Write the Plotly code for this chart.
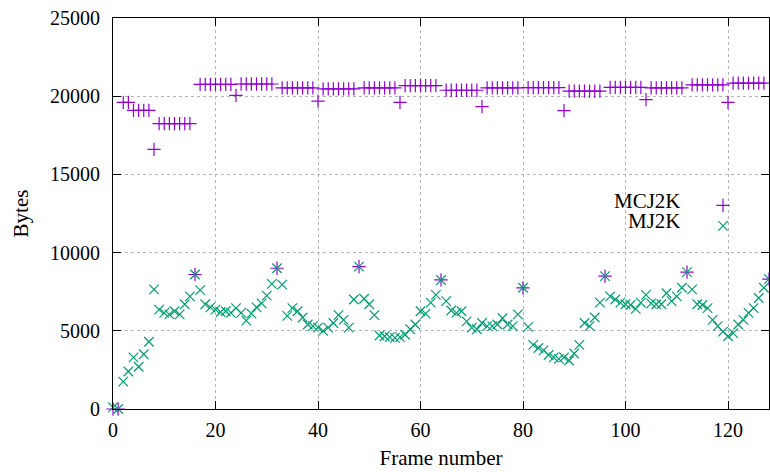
import plotly.graph_objects as go

# ---- data ----
frames = list(range(129))

mcj2k = [
    0, 0, 19600, 19600, 19100, 19100, 19100, 19100, 16600, 18250,
    18250, 18250, 18250, 18250, 18250, 18250, 8600, 20750, 20750, 20750,
    20750, 20750, 20750, 20750, 20050, 20780, 20780, 20780, 20780, 20780,
    20780, 20780, 9000, 20530, 20530, 20530, 20530, 20530, 20530, 20530,
    19680, 20470, 20470, 20470, 20470, 20470, 20470, 20470, 9100, 20530,
    20530, 20530, 20530, 20530, 20530, 20530, 19600, 20680, 20680, 20680,
    20680, 20680, 20680, 20680, 8250, 20380, 20380, 20380, 20380, 20380,
    20380, 20380, 19330, 20530, 20530, 20530, 20530, 20530, 20530, 20530,
    7750, 20550, 20550, 20550, 20550, 20550, 20550, 20550, 19080, 20320,
    20320, 20320, 20320, 20320, 20320, 20320, 8500, 20570, 20570, 20570,
    20570, 20570, 20570, 20570, 19780, 20530, 20530, 20530, 20530, 20530,
    20530, 20530, 8750, 20720, 20720, 20720, 20720, 20720, 20720, 20720,
    19600, 20830, 20830, 20830, 20830, 20830, 20830, 20830, 8300,
]

mj2k = [
    100, 0, 1750, 2400, 3300, 2700, 3500, 4300, 7650, 6350,
    6150, 6050, 6250, 6050, 6700, 7200, 8600, 7600, 6700, 6500,
    6350, 6200, 6250, 6150, 6450, 6150, 5650, 6100, 6500, 6750,
    7250, 8000, 9000, 7950, 5950, 6450, 6250, 5850, 5400, 5300,
    5200, 5000, 5200, 5500, 6000, 5700, 5200, 7000, 9100, 7050,
    6700, 6000, 4700, 4650, 4600, 4550, 4600, 4750, 5100, 5400,
    6250, 6100, 6800, 7300, 8250, 6900, 6300, 6150, 6250, 5600,
    5200, 5100, 5500, 5300, 5300, 5400, 5800, 5400, 5300, 6050,
    7750, 5250, 4100, 3900, 3750, 3450, 3300, 3200, 3300, 3100,
    3550, 4100, 5500, 5300, 5850, 6800, 8500, 7200, 7000, 6800,
    6700, 6650, 6400, 6800, 7300, 6750, 6700, 6700, 7400, 6900,
    7200, 7750, 8750, 7650, 6700, 6650, 6450, 5700, 5300, 4950,
    4650, 4850, 5400, 5700, 6150, 6450, 7100, 7750, 8300,
]

series_names = ["MCJ2K", "MJ2K"]
x_ticks = [0, 20, 40, 60, 80, 100, 120]
y_ticks = [0, 5000, 10000, 15000, 20000, 25000]
x_title = "Frame number"
y_title = "Bytes"

# ---- style ----
PURPLE = "#9400d3"
GREEN = "#009e73"
FONT = "Liberation Serif"
W, H = 770, 472
ML, MR, MT, MB = 113, 1, 18, 63
PW, PH = W - ML - MR, H - MT - MB


def px_x(p):
    return (p - ML) / PW


def px_y(p):
    return (H - MB - p) / PH


fig = go.Figure()
fig.add_trace(go.Scatter(
    x=frames, y=mcj2k, mode="markers", name=" ",
    marker=dict(symbol="cross-thin", size=9.5, color=PURPLE,
                line=dict(color=PURPLE, width=1.2)),
    cliponaxis=False,
))
fig.add_trace(go.Scatter(
    x=frames, y=mj2k, mode="markers", name=" ",
    marker=dict(symbol="x-thin", size=9.5, color=GREEN,
                line=dict(color=GREEN, width=1.2)),
    cliponaxis=False,
))

axis_common = dict(
    ticks="inside", ticklen=8, tickcolor="black", tickwidth=1,
    showline=True, linecolor="black", linewidth=1, mirror="ticks",
    showgrid=True, gridcolor="#b4b4b4", griddash="dot", gridwidth=1,
    zeroline=False,
    tickfont=dict(family=FONT, size=20, color="black"),
)

fig.update_xaxes(range=[0, 128], tickvals=x_ticks,
                 ticktext=[str(v) for v in x_ticks],
                 title=dict(text=x_title, font=dict(family=FONT, size=21, color="black"), standoff=10),
                 ticklabelstandoff=3, **axis_common)
fig.update_yaxes(range=[0, 25000], tickvals=y_ticks,
                 ticktext=[str(v) for v in y_ticks],
                 title=dict(text=y_title, font=dict(family=FONT, size=21, color="black"), standoff=15),
                 ticklabelstandoff=8, **axis_common)

# legend: keys on the right of right-aligned text (gnuplot style)
for i, name in enumerate(series_names):
    fig.add_annotation(
        x=px_x(682), y=px_y(201 + 19 * i), xref="paper", yref="paper",
        text=name, showarrow=False, xanchor="right", yanchor="middle",
        height=17, valign="middle", borderpad=0,
        font=dict(family=FONT, size=21, color="black"),
    )

fig.update_layout(
    width=W, height=H,
    margin=dict(l=ML, r=MR, t=MT, b=MB),
    paper_bgcolor="white", plot_bgcolor="white",
    showlegend=True,
    legend=dict(x=px_x(703), y=px_y(190), xanchor="left", yanchor="top",
                bgcolor="rgba(0,0,0,0)", font=dict(family=FONT, size=13.5),
                itemwidth=30, tracegroupgap=0),
)

fig.write_html("out.html", config={"displayModeBar": False},
               post_script="document.body.style.margin='0';")
